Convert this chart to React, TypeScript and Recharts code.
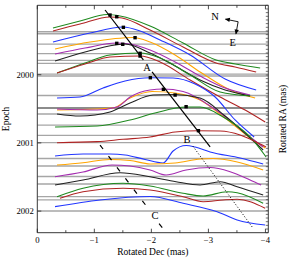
import React from 'react';
import { ComposedChart, Line, XAxis, YAxis } from 'recharts';

const SERIF = '"Liberation Serif", "Times New Roman", serif';

// ---- axes ----
const decDomain = [-4.05, 0];
const decTicks = [0, -0.5, -1, -1.5, -2, -2.5, -3, -3.5, -4];
const epochDomain = [1998.982, 2002.317];
const epochTicks = [2000, 2001, 2002];
const raDomain = [0, 62];
const raTicks = Array.from({ length: 63 }, (_, i) => i);

// ---- epoch baselines ----
const baselines = [
  1999.37, 1999.399, 1999.55, 1999.692, 1999.789, 1999.833, 1999.99, 2000.019,
  2000.305, 2000.488, 2000.576, 2000.738, 2000.889, 2000.997, 2001.229, 2001.339,
  2001.493, 2001.603, 2001.789, 2001.837, 2001.999,
];

// ---- ridge lines [Dec, epoch-offset position] ----
const greenA = [[-0.275,1999.315],[-0.749,1999.213],[-1.223,1999.117],[-1.451,1999.139],[-1.977,1999.286],[-2.556,1999.535],[-3.135,1999.784],[-3.468,1999.843],[-3.907,1999.902]];
const redA = [[-0.275,1999.359],[-0.749,1999.257],[-1.275,1999.154],[-1.486,1999.169],[-1.977,1999.345],[-2.556,1999.594],[-3.135,1999.828],[-3.468,1999.887],[-3.837,1999.96]];
const blueA = [[-0.275,1999.521],[-0.925,1999.389],[-1.504,1999.301],[-1.802,1999.359],[-2.153,1999.491],[-2.679,1999.711],[-3.293,2000.063],[-3.837,2000.224]];
const orangeA = [[-0.311,1999.623],[-0.925,1999.521],[-1.679,1999.455],[-1.977,1999.521],[-2.416,1999.711],[-2.854,1999.96],[-3.381,2000.224],[-3.819,2000.342]];
const purpleA = [[-0.311,1999.696],[-0.837,1999.609],[-1.381,1999.535],[-1.626,1999.55],[-1.977,1999.638],[-2.416,1999.814],[-2.854,2000.019],[-3.293,2000.195],[-3.731,2000.298]];
const blackA = [[-0.311,1999.799],[-0.837,1999.667],[-1.363,1999.565],[-1.539,1999.55],[-1.977,1999.682],[-2.416,1999.872],[-2.854,2000.078],[-3.293,2000.224],[-3.731,2000.312]];
const redB = [[-0.346,1999.975],[-0.837,1999.843],[-1.275,1999.74],[-1.802,1999.726],[-2.153,1999.814],[-2.679,2000.078],[-3.205,2000.327],[-3.644,2000.518],[-3.995,2000.694]];
const greenB = [[-0.346,1999.975],[-0.837,1999.828],[-1.275,1999.711],[-1.802,1999.682],[-2.153,1999.755],[-2.679,2000.004],[-3.205,2000.254],[-3.731,2000.312]];
const blueB = [[-0.346,2000.342],[-0.749,2000.327],[-1.153,2000.195],[-1.539,2000.092],[-1.977,2000.044],[-2.381,2000.048],[-2.767,2000.136],[-3.118,2000.327],[-3.468,2000.664],[-3.802,2000.913]];
const purpleB = [[-0.346,2000.503],[-1.047,2000.518],[-1.398,2000.474],[-1.626,2000.327],[-1.977,2000.224],[-2.205,2000.21],[-2.556,2000.246],[-3.135,2000.518],[-3.731,2000.913],[-3.96,2001.06]];
const orangeB = [[-0.346,2000.518],[-1.328,2000.488],[-1.626,2000.342],[-2.012,2000.246],[-2.416,2000.268],[-2.854,2000.371],[-3.293,2000.635],[-3.731,2000.928],[-3.995,2001.075]];
const blackB = [[-0.346,2000.576],[-0.749,2000.606],[-1.275,2000.547],[-1.626,2000.415],[-2.03,2000.298],[-2.416,2000.29],[-2.854,2000.342],[-3.293,2000.606],[-3.731,2000.928],[-3.96,2001.104]];
const greenC = [[-0.311,2000.767],[-1.047,2000.752],[-1.626,2000.664],[-2.065,2000.562],[-2.609,2000.474],[-2.854,2000.474],[-3.258,2000.62],[-3.731,2000.913],[-4.012,2001.207]];
const redC = [[-0.346,2000.997],[-1.047,2000.982],[-1.504,2000.947],[-1.977,2000.913],[-2.416,2000.84],[-2.819,2000.821],[-3.205,2000.826],[-3.556,2000.884],[-3.837,2000.987],[-4.012,2001.06]];
const blueC = [[-0.311,2001.192],[-0.802,2001.163],[-1.275,2001.163],[-1.539,2001.177],[-1.889,2001.243],[-2.205,2001.295],[-2.381,2001.119],[-2.609,2001.038],[-2.767,2001.06],[-3.03,2001.133],[-3.556,2001.221],[-3.96,2001.309]];
const orangeC = [[-0.346,2001.324],[-0.802,2001.29],[-1.275,2001.243],[-1.626,2001.258],[-1.977,2001.309],[-2.416,2001.295],[-2.854,2001.236],[-3.082,2001.229],[-3.486,2001.276],[-3.96,2001.397]];
const purpleC = [[-0.311,2001.496],[-0.802,2001.427],[-1.311,2001.324],[-1.626,2001.339],[-1.977,2001.397],[-2.258,2001.471],[-2.609,2001.397],[-3.03,2001.361],[-3.381,2001.422],[-3.731,2001.544],[-3.925,2001.617]];
const blackC = [[-0.311,2001.617],[-0.802,2001.544],[-1.451,2001.437],[-1.977,2001.496],[-2.433,2001.569],[-2.854,2001.617],[-3.205,2001.569],[-3.504,2001.642],[-3.96,2001.764]];
const greenD = [[-0.346,2001.789],[-0.802,2001.666],[-1.504,2001.592],[-1.977,2001.632],[-2.556,2001.739],[-2.907,2001.779],[-3.328,2001.716],[-3.504,2001.73],[-3.96,2001.886]];
const redD = [[-0.398,2001.812],[-0.802,2001.716],[-1.504,2001.666],[-1.977,2001.691],[-2.556,2001.789],[-2.907,2001.862],[-3.258,2001.837],[-3.504,2001.827],[-3.995,2001.959]];
const blueD = [[-0.311,2001.935],[-1.1,2001.837],[-1.977,2001.786],[-2.556,2001.886],[-3.153,2002.009],[-3.504,2002.13],[-3.995,2002.204]];

// ---- component peaks ----
const peaks = [[-1.275,1999.125],[-1.393,1999.15],[-1.509,1999.305],[-1.714,1999.457],[-1.393,1999.54],[-1.498,1999.554],[-1.802,1999.686],[-1.802,1999.726],[-1.982,2000.044],[-2.211,2000.214],[-2.416,2000.298],[-2.609,2000.469],[-2.825,2000.821]];

// ---- motion tracks ----
const trackA = [[-1.188,1999.051],[-1.86,1999.784]];
const trackB = [[-2.012,1999.96],[-3.03,2001.06]];
const trackC1 = [[-1.1,2001.031],[-1.925,2001.94]];
const trackC2 = [[-2.135,2002.185],[-2.265,2002.317]];
const trackDot = [[-2.73,2001.05],[-3.784,2002.252]];

// ---- compass ----
const compassN = [[-3.521,1999.223],[-3.3,1999.186]];
const compassE = [[-3.521,1999.223],[-3.483,1999.4]];
const tipN = [[-3.288,1999.183]];
const tipE = [[-3.481,1999.411]];

// ---- labels ----
const labels = [
  { x: -1.925, y: 1999.887, t: 'A' },
  { x: -2.626, y: 2000.957, t: 'B' },
  { x: -2.065, y: 2002.072, t: 'C' },
  { x: -3.118, y: 1999.139, t: 'N' },
  { x: -3.425, y: 1999.521, t: 'E' },
];

const GREEN = '#1f8a1f';
const RED = '#b02424';
const BLUE = '#2236ff';
const ORANGE = '#ffa500';
const PURPLE = '#a42cb0';
const BLACK = '#222222';

const curves = [
  { pts: greenA, color: GREEN }, { pts: redA, color: RED }, { pts: blueA, color: BLUE },
  { pts: orangeA, color: ORANGE }, { pts: purpleA, color: PURPLE }, { pts: blackA, color: BLACK },
  { pts: greenB, color: GREEN }, { pts: redB, color: RED },
  { pts: blueB, color: BLUE }, { pts: orangeB, color: ORANGE }, { pts: purpleB, color: PURPLE },
  { pts: blackB, color: BLACK }, { pts: greenC, color: GREEN }, { pts: redC, color: RED },
  { pts: blueC, color: BLUE }, { pts: orangeC, color: ORANGE }, { pts: purpleC, color: PURPLE },
  { pts: blackC, color: BLACK }, { pts: greenD, color: GREEN }, { pts: redD, color: RED },
  { pts: blueD, color: BLUE },
];

const toPts = (a: number[][]) => a.map(([x, y]) => ({ x, y }));
const fmtDec = (v: number) => (v === 0 ? '0' : '\u2212' + Math.abs(v));

const BottomTick = (p: any) => {
  const v = p.payload.value;
  const major = Number.isInteger(v);
  return (
    <g>
      <line x1={p.x} x2={p.x} y1={p.y} y2={p.y - (major ? 4 : 2.5)} stroke="#222" strokeWidth={0.8} />
      {major && (
        <text x={p.x} y={p.y + 7.5} textAnchor="middle" dominantBaseline="central" fontSize={8.7} fontFamily={SERIF} fill="#000">
          {fmtDec(v)}
        </text>
      )}
    </g>
  );
};
const TopTick = (p: any) => {
  const major = Number.isInteger(p.payload.value);
  return <line x1={p.x} x2={p.x} y1={p.y} y2={p.y + (major ? 4 : 2.5)} stroke="#222" strokeWidth={0.8} />;
};
const LeftTick = (p: any) => (
  <g>
    <line x1={p.x} x2={p.x + 4} y1={p.y} y2={p.y} stroke="#222" strokeWidth={0.8} />
    <text x={p.x - 3.5} y={p.y} textAnchor="end" dominantBaseline="central" fontSize={8.7} fontFamily={SERIF} fill="#000">
      {p.payload.value}
    </text>
  </g>
);
const RightTick = (p: any) => <line x1={p.x} x2={p.x - 2.5} y1={p.y} y2={p.y} stroke="#333" strokeWidth={0.7} />;

const LeftTitle = (p: any) => {
  const vb = p.viewBox;
  const cx = vb.x + 6;
  const cy = vb.y + vb.height / 2;
  return (
    <text x={cx} y={cy} transform={`rotate(-90 ${cx} ${cy})`} textAnchor="middle" dominantBaseline="central" fontSize={9.5} fontFamily={SERIF} fill="#000">
      Epoch
    </text>
  );
};
const RightTitle = (p: any) => {
  const vb = p.viewBox;
  const cx = vb.x + 15;
  const cy = vb.y + vb.height / 2;
  return (
    <text x={cx} y={cy} transform={`rotate(-90 ${cx} ${cy})`} textAnchor="middle" dominantBaseline="central" fontSize={9.5} fontFamily={SERIF} fill="#000">
      Rotated RA (mas)
    </text>
  );
};
const BottomTitle = (p: any) => {
  const vb = p.viewBox;
  return (
    <text x={vb.x + vb.width / 2} y={vb.y + 19} textAnchor="middle" dominantBaseline="central" fontSize={9.5} fontFamily={SERIF} fill="#000">
      Rotated Dec (mas)
    </text>
  );
};

const SquareDot = (p: any) => (
  <rect key={`sq${p.index}`} x={p.cx - 1.7} y={p.cy - 1.7} width={3.4} height={3.4} fill="#000" />
);
const arrowHead = (angle: number) => (p: any) => (
  <polygon key={`ah${angle}${p.index}`} points="0,0 -5,-2.2 -5,2.2" transform={`translate(${p.cx},${p.cy}) rotate(${angle})`} fill="#000" />
);
const LabelDot = (p: any) => (
  <text key={`lb${p.index}`} x={p.cx} y={p.cy} textAnchor="middle" dominantBaseline="central" fontSize={10.5} fontFamily={SERIF} fill="#000">
    {p.payload.t}
  </text>
);

const common = { xAxisId: 'b', yAxisId: 'l', dataKey: 'y', isAnimationActive: false, activeDot: false as const };

export default function App() {
  return (
    <div style={{ position: 'absolute', left: 0, top: 0, width: 293, height: 263, background: '#fff' }}>
      <ComposedChart width={293} height={263} margin={{ top: 0, right: 0, bottom: 0, left: 0 }}>
        <XAxis xAxisId="b" dataKey="x" type="number" domain={decDomain} reversed allowDataOverflow ticks={decTicks} interval={0}
          height={30.3} tickSize={0} tickMargin={0} tickLine={false} axisLine={{ stroke: '#222', strokeWidth: 0.9 }}
          tick={BottomTick} label={{ content: BottomTitle }} />
        <XAxis xAxisId="t" orientation="top" dataKey="x" type="number" domain={decDomain} reversed allowDataOverflow ticks={decTicks} interval={0}
          height={5.3} tickSize={0} tickMargin={0} tickLine={false} axisLine={{ stroke: '#222', strokeWidth: 0.9 }} tick={TopTick} />
        <YAxis yAxisId="l" dataKey="y" type="number" domain={epochDomain} reversed allowDataOverflow ticks={epochTicks} interval={0}
          width={37.3} tickSize={0} tickMargin={0} tickLine={false} axisLine={{ stroke: '#222', strokeWidth: 0.9 }}
          tick={LeftTick} label={{ content: LeftTitle }} />
        <YAxis yAxisId="r" orientation="right" type="number" domain={raDomain} allowDataOverflow ticks={raTicks} interval={0}
          width={24.7} tickSize={0} tickMargin={0} tickLine={false} axisLine={{ stroke: '#222', strokeWidth: 0.9 }}
          tick={RightTick} label={{ content: RightTitle }} />

        {baselines.map((e, i) => (
          <Line key={`bl${i}`} {...common} data={[{ x: decDomain[1], y: e }, { x: decDomain[0], y: e }]} type="linear"
            stroke={i === 9 ? '#666' : '#a6a6a6'} strokeWidth={1.3} dot={false} />
        ))}

        {curves.map((c, i) => (
          <Line key={`cv${i}`} {...common} data={toPts(c.pts)} type="monotone" stroke={c.color} strokeWidth={1.1} dot={false} />
        ))}

        <Line {...common} data={toPts(trackA)} type="linear" stroke="#000" strokeWidth={1.2} dot={false} />
        <Line {...common} data={toPts(trackB)} type="linear" stroke="#000" strokeWidth={1.2} dot={false} />
        <Line {...common} data={toPts(trackC1)} type="linear" stroke="#000" strokeWidth={1.2} strokeDasharray="5 9" dot={false} />
        <Line {...common} data={toPts(trackC2)} type="linear" stroke="#000" strokeWidth={1.2} strokeDasharray="5 9" dot={false} />
        <Line {...common} data={toPts(trackDot)} type="linear" stroke="#000" strokeWidth={1} strokeDasharray="1 2" dot={false} />

        <Line {...common} data={toPts(peaks)} type="linear" stroke="none" dot={SquareDot} />

        <Line {...common} data={toPts(compassN)} type="linear" stroke="#000" strokeWidth={0.9} dot={false} />
        <Line {...common} data={toPts(compassE)} type="linear" stroke="#000" strokeWidth={0.9} dot={false} />
        <Line {...common} data={toPts(tipN)} type="linear" stroke="none" dot={arrowHead(191)} />
        <Line {...common} data={toPts(tipE)} type="linear" stroke="none" dot={arrowHead(100)} />

        <Line {...common} data={labels} type="linear" stroke="none" dot={LabelDot} />
      </ComposedChart>
    </div>
  );
}
